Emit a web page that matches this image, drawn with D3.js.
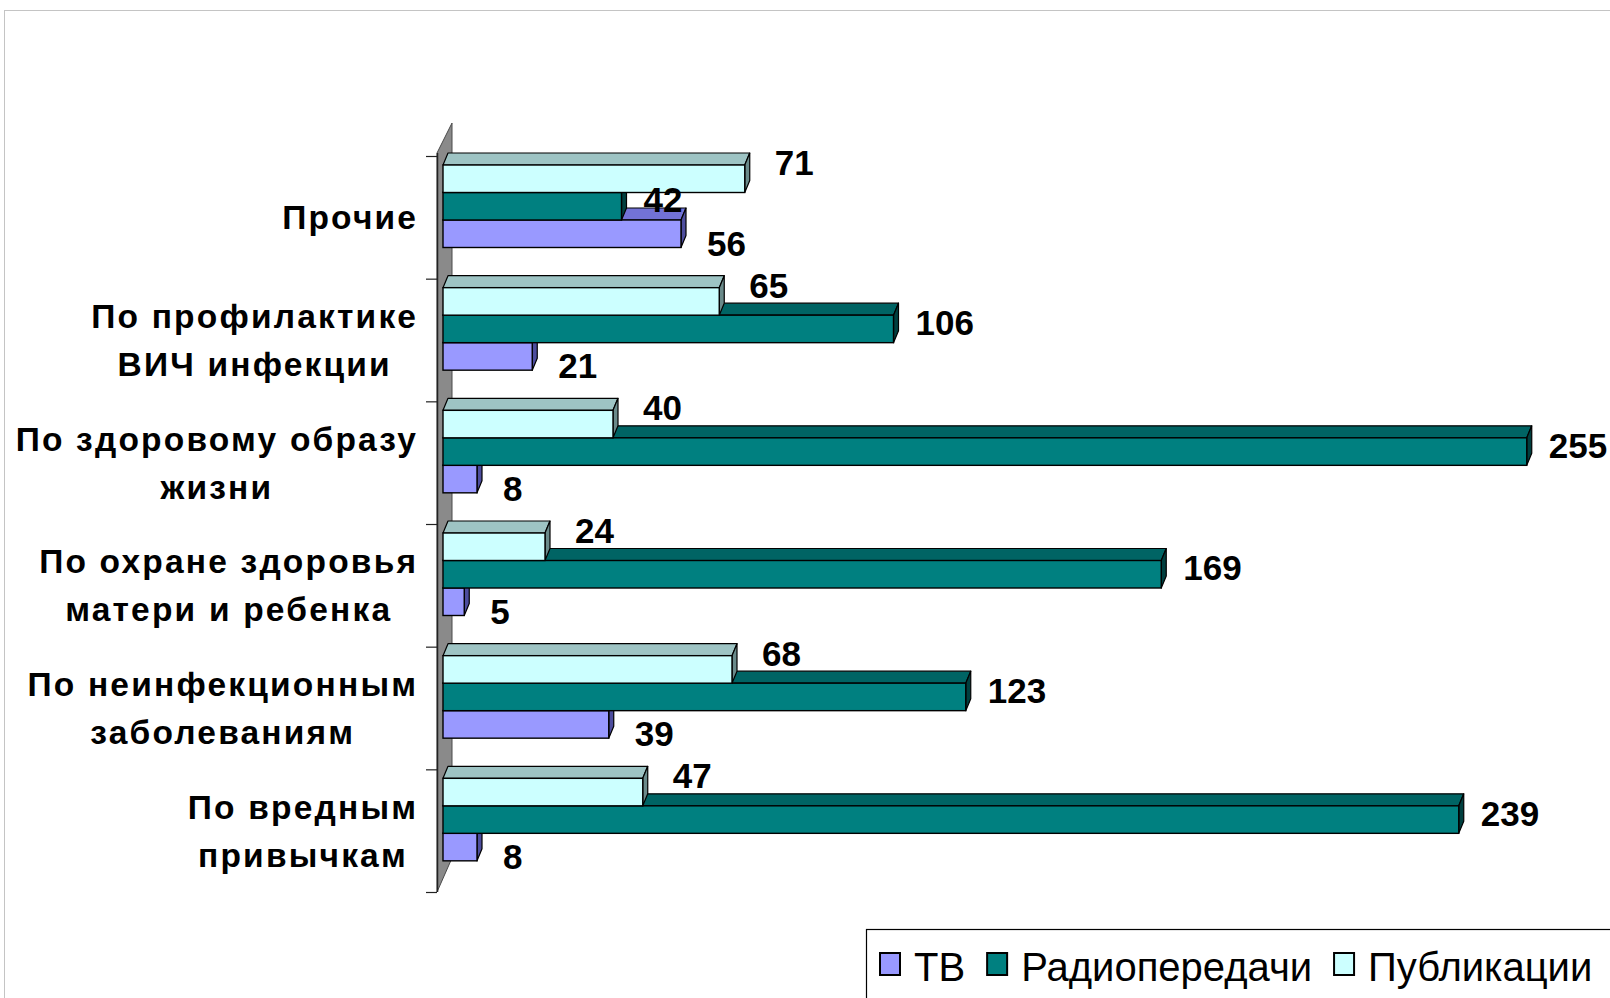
<!DOCTYPE html>
<html lang="ru">
<head>
<meta charset="utf-8">
<title>Тематика материалов</title>
<script src="https://cdn.jsdelivr.net/npm/d3@7"></script>
<style>
  html, body { margin: 0; padding: 0; background: #ffffff; }
  svg { display: block; }
</style>
</head>
<body>
<svg id="chart" width="1610" height="998"></svg>
<script>
// Categories (top to bottom); "\n" marks a line break in the axis label
const categories = [
  "Прочие",
  "По профилактике\nВИЧ инфекции",
  "По здоровому образу\nжизни",
  "По охране здоровья\nматери и ребенка",
  "По неинфекционным\nзаболеваниям",
  "По вредным\nпривычкам"
];
const seriesNames = ["ТВ", "Радиопередачи", "Публикации"];
const tvValues    = [56, 21, 8, 5, 39, 8];
const radioValues = [42, 106, 255, 169, 123, 239];
const pubValues   = [71, 65, 40, 24, 68, 47];

const seriesValues = { "ТВ": tvValues, "Радиопередачи": radioValues, "Публикации": pubValues };

// Colours: front face, top face, side face
const palette = {
  "ТВ":            { front: "#9999ff", top: "#7272d6", side: "#4d4d9e" },
  "Радиопередачи": { front: "#008080", top: "#006464", side: "#003f3f" },
  "Публикации":    { front: "#ccffff", top: "#9ec4c4", side: "#6a8a8a" }
};

const svg = d3.select("#chart");
const FONT = "'Liberation Sans', Arial, sans-serif";

// Outer chart frame
svg.append("rect")
  .attr("x", 4.5).attr("y", 10.5).attr("width", 1640).attr("height", 1000)
  .attr("fill", "#ffffff").attr("stroke", "#c4c4c4").attr("stroke-width", 1);

// Scales
const x = d3.scaleLinear().domain([0, 260]).range([443, 443 + 260 * 4.25]);
const y = d3.scaleBand().domain(categories).range([156, 892]);
// Series inside a category, top to bottom
const ySeries = d3.scaleBand().domain(["Публикации", "Радиопередачи", "ТВ"]).range([9, 9 + 82.5]);
const bh = ySeries.bandwidth();
const depthX = 5, depthY = 12;

// Side wall behind the category axis
const wallTop = y.range()[0], wallBot = y.range()[1];
svg.append("polygon")
  .attr("points", [[437, wallTop - 3], [452, wallTop - 33], [452, wallBot - 34], [437, wallBot]].map(p => p.join(",")).join(" "))
  .attr("fill", "#8a8a8a").attr("stroke", "#4a4a4a").attr("stroke-width", 1);
svg.append("line")
  .attr("x1", 437.5).attr("x2", 437.5).attr("y1", wallTop - 3).attr("y2", wallBot)
  .attr("stroke", "#222").attr("stroke-width", 1.5);

// Category ticks at band boundaries
const tickYs = categories.map(c => y(c)).concat([wallBot]);
svg.append("g").selectAll("line").data(tickYs).join("line")
  .attr("x1", 426).attr("x2", 437).attr("y1", d => d + 0.5).attr("y2", d => d + 0.5)
  .attr("stroke", "#222").attr("stroke-width", 1.2);

// 3D bars: draw bottom series first so upper bars overlap the top faces below
const drawOrder = ["ТВ", "Радиопередачи", "Публикации"];
const barsG = svg.append("g");
drawOrder.forEach(s => {
  const col = palette[s];
  const g = barsG.append("g").attr("class", "series");
  const rows = categories.map((c, i) => ({ c, v: seriesValues[s][i] }));
  const bar = g.selectAll("g.bar").data(rows).join("g").attr("class", "bar");
  bar.each(function(d) {
    const sel = d3.select(this);
    const x0 = x(0), x1 = x(d.v);
    const yb = y(d.c) + ySeries(s);
    sel.append("polygon")
      .attr("points", [[x0, yb], [x0 + depthX, yb - depthY], [x1 + depthX, yb - depthY], [x1, yb]].map(p => p.join(",")).join(" "))
      .attr("fill", col.top).attr("stroke", "#000").attr("stroke-width", 1.2).attr("stroke-linejoin", "round");
    sel.append("polygon")
      .attr("points", [[x1, yb], [x1 + depthX, yb - depthY], [x1 + depthX, yb + bh - depthY], [x1, yb + bh]].map(p => p.join(",")).join(" "))
      .attr("fill", col.side).attr("stroke", "#000").attr("stroke-width", 1.2).attr("stroke-linejoin", "round");
    sel.append("rect")
      .attr("x", x0).attr("y", yb).attr("width", x1 - x0).attr("height", bh)
      .attr("fill", col.front).attr("stroke", "#000").attr("stroke-width", 1.4);
  });
});

// Value labels
const labelRule = {
  "Публикации":    { dx: 30, dy: d => 10 },
  "Радиопередачи": { dx: 22, dy: d => bh / 2 + 6 },
  "ТВ":            { dx: 26, dy: d => bh / 2 + 22 }
};
const labelsG = svg.append("g")
  .attr("font-family", FONT).attr("font-weight", "bold").attr("font-size", 35).attr("fill", "#000");
seriesNames.forEach(s => {
  const r = labelRule[s];
  labelsG.append("g").selectAll("text")
    .data(categories.map((c, i) => ({ c, v: seriesValues[s][i] })))
    .join("text")
    .attr("x", d => x(d.v) + r.dx)
    .attr("y", d => y(d.c) + ySeries(s) + r.dy(d))
    .text(d => d.v);
});

// Category labels: block right-aligned to the axis, lines centred within the block
const LS = 2.2;
const catG = svg.append("g")
  .attr("font-family", FONT).attr("font-weight", "bold").attr("font-size", 33.5)
  .attr("letter-spacing", LS + "px").attr("fill", "#000");
const labelRight = 416, lineGap = 48, capHalf = 12;
categories.forEach(c => {
  const lines = c.split("\n");
  const texts = lines.map(l => catG.append("text").attr("text-anchor", "start").text(l));
  const widths = texts.map(t => t.node().getComputedTextLength() - LS);
  const blockW = d3.max(widths);
  const cx = labelRight - blockW / 2;
  const yc = y(c) + y.bandwidth() / 2;
  const firstBase = yc - (lines.length - 1) * lineGap / 2 + capHalf;
  texts.forEach((t, i) => {
    t.attr("x", cx - widths[i] / 2).attr("y", firstBase + i * lineGap);
  });
});

// Legend
const legend = svg.append("g");
legend.append("rect")
  .attr("x", 866.5).attr("y", 929.5).attr("width", 800).attr("height", 120)
  .attr("fill", "#ffffff").attr("stroke", "#000").attr("stroke-width", 1.2);
let lx = 880;
seriesNames.forEach(s => {
  legend.append("rect")
    .attr("x", lx).attr("y", 953).attr("width", 20).attr("height", 22)
    .attr("fill", palette[s].front).attr("stroke", "#000").attr("stroke-width", 2);
  const t = legend.append("text")
    .attr("x", lx + 34).attr("y", 981)
    .attr("font-family", FONT).attr("font-size", 40).attr("fill", "#000")
    .text(s);
  lx += 34 + t.node().getComputedTextLength() + 22;
});
</script>
</body>
</html>
